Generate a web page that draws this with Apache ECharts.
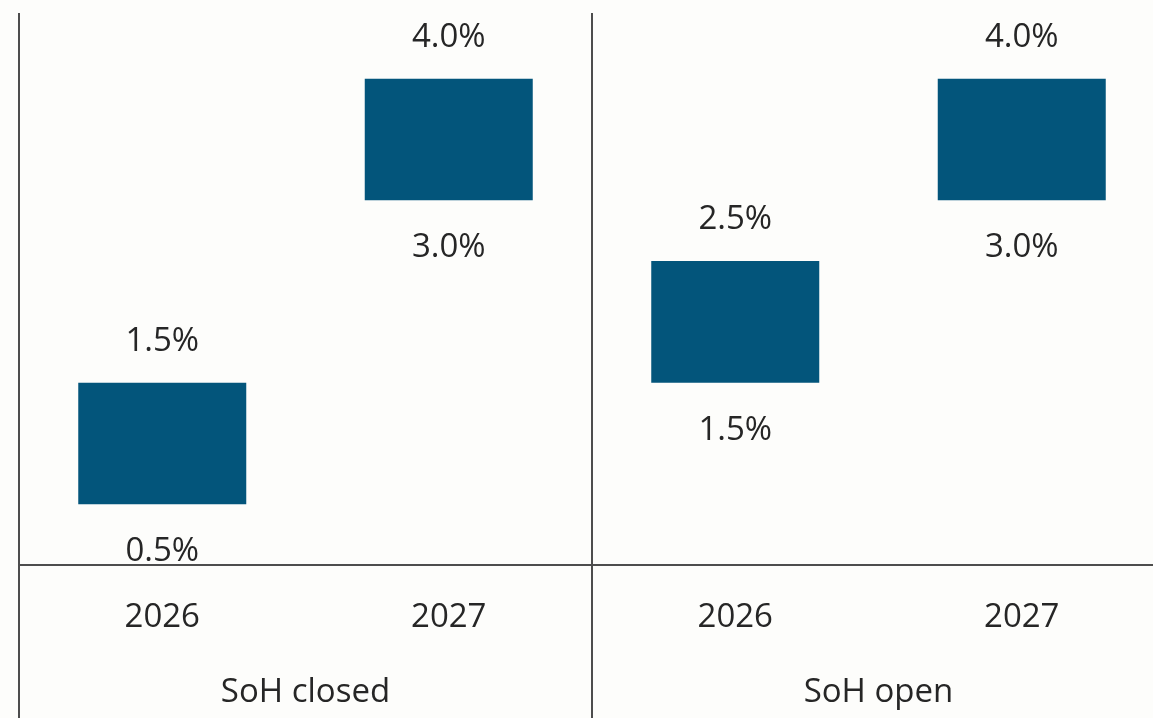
<!DOCTYPE html>
<html>
<head>
<meta charset="utf-8">
<script src="https://cdn.jsdelivr.net/npm/echarts@6/dist/echarts.min.js"></script>
<style>
html,body{margin:0;padding:0;background:#fdfdfb;}
#chart{width:1153px;height:718px;}
</style>
</head>
<body>
<div id="chart"></div>
<script>
var years = ['2026', '2027', '2026', '2027'];
var groups = ['SoH closed', 'SoH open'];
var lowValues = [0.5, 3.0, 1.5, 3.0];
var highValues = [1.5, 4.0, 2.5, 4.0];

var spans = highValues.map(function (h, i) { return +(h - lowValues[i]).toFixed(2); });
var textColor = '#262626';
var lineColor = '#4d4d4d';
var font = '"Open Sans", "Noto Sans", sans-serif';
var fs = 33;

var chart = echarts.init(document.getElementById('chart'));
chart.setOption({
  backgroundColor: '#fdfdfb',
  animation: false,
  grid: { left: 19, width: 1146, top: 18, height: 547, containLabel: false, outerBoundsMode: 'none' },
  xAxis: [
    {
      type: 'category', data: years, position: 'bottom', boundaryGap: true,
      axisLine: { show: true, lineStyle: { color: lineColor, width: 2 } },
      axisTick: { show: false },
      axisLabel: { color: textColor, fontSize: fs, fontFamily: font, margin: 36 },
      splitLine: { show: false }
    },
    {
      type: 'category', data: groups, position: 'bottom', boundaryGap: true,
      axisLine: { show: false },
      axisTick: { show: true, interval: 0, length: 153, lineStyle: { color: lineColor, width: 2 } },
      axisLabel: { color: textColor, fontSize: fs, fontFamily: font, margin: 111 },
      splitLine: { show: false }
    },
    {
      type: 'category', data: groups, position: 'bottom', boundaryGap: true,
      axisLine: { show: false },
      axisTick: { show: true, inside: true, interval: 0, length: 552, lineStyle: { color: lineColor, width: 2 } },
      axisLabel: { show: false },
      splitLine: { show: false }
    }
  ],
  yAxis: {
    type: 'value', min: 0, max: 4.5,
    axisLine: { show: false }, axisTick: { show: false },
    axisLabel: { show: false }, splitLine: { show: false }
  },
  series: [
    {
      type: 'bar', stack: 'range', data: lowValues, barWidth: 168,
      itemStyle: { color: 'transparent' },
      label: {
        show: true, position: 'insideTop', distance: 31,
        color: textColor, fontSize: fs, fontFamily: font,
        formatter: function (p) { return lowValues[p.dataIndex].toFixed(1) + '%'; }
      },
      silent: true
    },
    {
      type: 'bar', stack: 'range', data: spans, barWidth: 168,
      itemStyle: { color: '#03557b' },
      label: {
        show: true, position: 'top', distance: 25,
        color: textColor, fontSize: fs, fontFamily: font,
        formatter: function (p) { return highValues[p.dataIndex].toFixed(1) + '%'; }
      }
    }
  ]
});
</script>
</body>
</html>
